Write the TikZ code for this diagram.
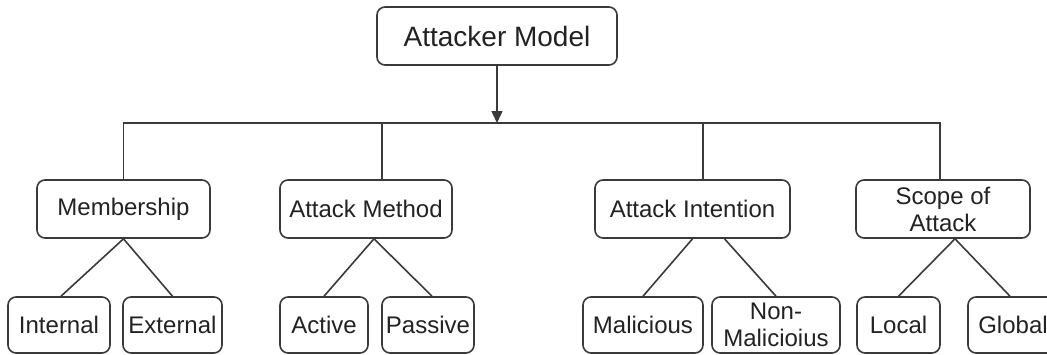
\documentclass[tikz,border=0pt]{standalone}
\usepackage{fontspec}
\setmainfont{Liberation Sans}
\usetikzlibrary{arrows.meta}
\definecolor{edge}{HTML}{3A3A3A}
\definecolor{ink}{HTML}{222222}
\begin{document}
\begin{tikzpicture}[x=1pt,y=-1pt,
  box/.style={draw=edge, line width=1.6pt, rounded corners=8pt, fill=white,
    text=ink, inner sep=0pt, align=center,
    font=\fontsize{24}{27}\selectfont},
  link/.style={draw=edge, line width=1.6pt},
]
\useasboundingbox (0,0) rectangle (1047,354);

% root
\node[box, minimum width=240pt, minimum height=58pt,
  font=\fontsize{28}{30}\selectfont] (top) at (497,36) {Attacker Model};

% categories
\node[box, minimum width=173pt, minimum height=58pt] (mem) at (123.5,209) {Membership};
\node[box, minimum width=172pt, minimum height=58pt] (am)  at (366,209) {Attack Method};
\node[box, minimum width=195pt, minimum height=58pt] (ai)  at (692.5,209) {Attack Intention};
\node[box, minimum width=174pt, minimum height=58pt] (sc)  at (943,209) {Scope of\\Attack};

% leaves
\node[box, minimum width=102pt, minimum height=56pt] (int) at (59,325) {Internal};
\node[box, minimum width=99pt,  minimum height=56pt] (ext) at (172.5,325) {External};
\node[box, minimum width=88pt,  minimum height=56pt] (act) at (324,325) {Active};
\node[box, minimum width=92pt,  minimum height=56pt] (pas) at (428,325) {Passive};
\node[box, minimum width=120pt, minimum height=56pt] (mal) at (643,325) {Malicious};
\node[box, minimum width=128pt, minimum height=56pt] (non) at (776,325) {Non-\\Malicioius};
\node[box, minimum width=83pt,  minimum height=56pt] (loc) at (898.5,325) {Local};
\node[box, minimum width=90pt,  minimum height=56pt] (glo) at (1013,325) {Global};

% bus line under the root
\coordinate (bus) at (497,123);
\draw[link, -{Triangle[length=12pt,width=11pt]}] (top.south) -- (bus);
\draw[link] (mem.north) |- (bus) -| ([xshift=-3pt]sc.north);
\draw[link] ([xshift=16pt]am.north) -- ([xshift=16pt]am.north |- bus);
\draw[link] ([xshift=10.5pt]ai.north) -- ([xshift=10.5pt]ai.north |- bus);

% category to leaf connectors
\draw[link] ([xshift=2pt]int.north) -- (mem.south) -- (ext.north);
\draw[link] (act.north) -- ([xshift=8pt]am.south) -- ([xshift=4pt]pas.north);
\draw[link] (mal.north) -- (ai.south);
\draw[link] ([xshift=32pt]ai.south) -- (non.north);
\draw[link] (loc.north) -- ([xshift=12pt]sc.south) -- ([xshift=-3pt]glo.north);
\end{tikzpicture}
\end{document}
